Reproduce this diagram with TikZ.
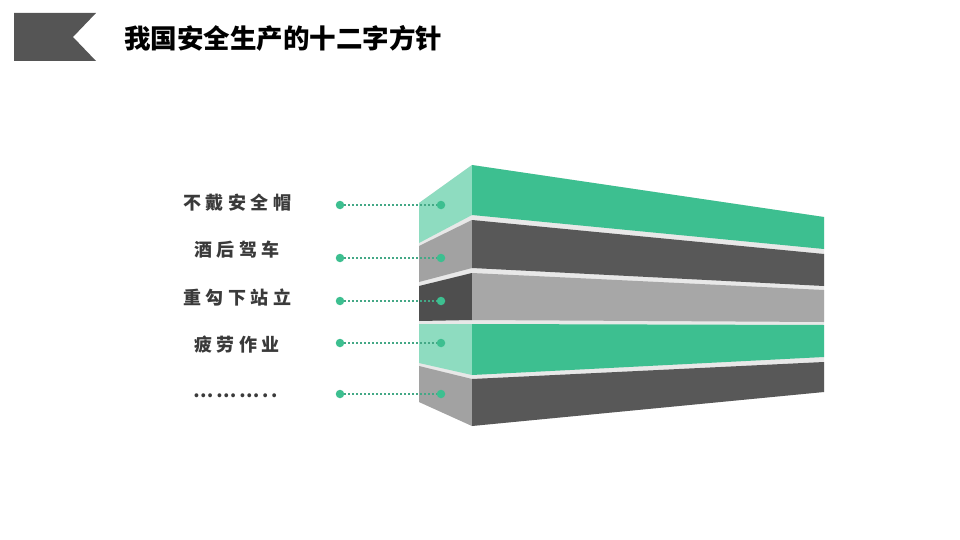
\documentclass[tikz,border=0pt]{standalone}
\usepackage{fontspec}
\setmainfont{Noto Sans CJK SC}
\usepackage{tikz}
\usetikzlibrary{
    calc,
    positioning
}
\definecolor{mintfront}{HTML}{3DBF90}
\definecolor{mintside}{HTML}{8EDCC0}
\definecolor{darkfront}{HTML}{585858}
\definecolor{darkside}{HTML}{4E4E4E}
\definecolor{greyfront}{HTML}{A7A7A7}
\definecolor{greyside}{HTML}{A2A2A2}
\definecolor{gapgrey}{HTML}{E8E8E8}
\definecolor{bannergrey}{HTML}{555555}
\definecolor{labelgrey}{HTML}{3A3A3A}
\definecolor{linkgreen}{HTML}{44A886}

\begin{document}
\begin{tikzpicture}[x=1pt,y=-1pt,
    itemlabel/.style={font=\fontsize{18}{20}\selectfont\bfseries\addfontfeatures{LetterSpace=25},
        text=labelgrey, inner sep=0pt},
    pin/.style={circle, fill=mintfront, inner sep=0pt, minimum size=8.5pt},
    link/.style={linkgreen, line width=2.2pt, dash pattern=on 2pt off 2pt}
]
\useasboundingbox (0,0) rectangle (960,540);

%% banner and title
\fill[bannergrey] (14,13) -- (96,13) -- (73,37) -- (96,61) -- (14,61) -- cycle;
\node[anchor=west, inner sep=0pt, font=\fontsize{26.5}{30}\selectfont\bfseries] (title)
    at (124,38) {我国安全生产的十二字方针};

%% the stack
\fill[gapgrey] (419,203) -- (472,165) -- (824,217) -- (824,392) -- (472,426) -- (419,402) -- cycle;
% layer 1
\fill[mintside]  (419,203) -- (472,165) -- (472,215) -- (419,243) -- cycle;
\fill[mintfront] (472,165) -- (824,217) -- (824,249) -- (472,215) -- cycle;
% layer 2
\fill[greyside]  (419,246) -- (472,220) -- (472,268) -- (419,282) -- cycle;
\fill[darkfront] (472,220) -- (824,254) -- (824,286) -- (472,268) -- cycle;
% layer 3
\fill[darkside]  (419,286) -- (472,273) -- (472,320) -- (419,321) -- cycle;
\fill[greyfront] (472,273) -- (824,290) -- (824,322) -- (472,320) -- cycle;
% layer 4
\fill[mintside]  (419,324) -- (472,324) -- (472,375) -- (419,363) -- cycle;
\fill[mintfront] (472,324) -- (824,325) -- (824,357) -- (472,375) -- cycle;
% layer 5
\fill[greyside]  (419,366) -- (472,379) -- (472,426) -- (419,402) -- cycle;
\fill[darkfront] (472,379) -- (824,362) -- (824,392) -- (472,426) -- cycle;

%% labels
\node[itemlabel] (l1) at (237,203) {不戴安全帽};
\node[itemlabel] (l2) at (237,250) {酒后驾车};
\node[itemlabel] (l3) at (237,298) {重勾下站立};
\node[itemlabel] (l4) at (237,345) {疲劳作业};
\node[itemlabel, font=\fontsize{18}{20}\selectfont\bfseries\addfontfeatures{LetterSpace=15}]
    (l5) at (236,396) {………..};

%% pins
\node[pin] (s1) at (340,205) {};
\node[pin] (s2) at (340,258) {};
\node[pin] (s3) at (340,301) {};
\node[pin] (s4) at (340,343) {};
\node[pin] (s5) at (340,394) {};

\node[pin] (e1) at (441,205) {};
\node[pin] (e2) at (441,258) {};
\node[pin] (e3) at (441,301) {};
\node[pin] (e4) at (441,343) {};
\node[pin] (e5) at (441,394) {};

\draw[link] (s1) -- (e1);
\draw[link] (s2) -- (e2);
\draw[link] (s3) -- (e3);
\draw[link] (s4) -- (e4);
\draw[link] (s5) -- (e5);
\end{tikzpicture}
\end{document}
